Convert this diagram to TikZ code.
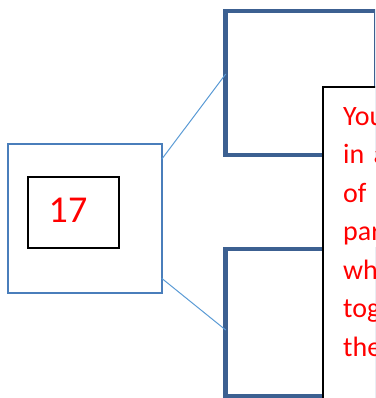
\documentclass[tikz,border=0pt]{standalone}
\usepackage{fontspec}
\setmainfont{Carlito}
\usetikzlibrary{positioning,calc}
\definecolor{frameblue}{RGB}{74,126,187}
\definecolor{linkblue}{RGB}{91,155,213}
\definecolor{deepblue}{RGB}{60,96,145}

\begin{document}
\begin{tikzpicture}[x=1pt,y=-1pt,
                sqframe/.style={rectangle,draw=frameblue,line width=2pt,
                                inner sep=0pt,outer sep=0pt},
                numbox/.style={rectangle,draw=black,line width=1.7pt,
                               inner sep=0pt,outer sep=0pt,
                               minimum width=91pt,minimum height=71.6pt},
                bigbox/.style={rectangle,draw=deepblue,line width=4.5pt,
                               inner sep=0pt,outer sep=0pt,minimum width=150.8pt},
                callout/.style={rectangle,draw=black,fill=white,line width=2pt,
                                inner sep=0pt,outer sep=0pt},
                linkline/.style={draw=linkblue,line width=1pt},
                redtext/.style={text=red,inner sep=0pt}]
                \useasboundingbox (0,0) rectangle (375,398);
                \clip (0,0) rectangle (375,398);
                % left square with the number
                \node[sqframe,minimum width=153.7pt,minimum height=148.4pt]
                           (square) at (84.85,218.5) {};
                \node[numbox] (num) at (73.5,212.5) {};
                \node[redtext,font=\fontsize{38}{40}\selectfont]
                           (numlabel) at ([xshift=-5.5pt,yshift=2pt]num.center) {17};
                % two large boxes on the right
                \node[bigbox,minimum height=144pt] (upper) at (301.1,83) {};
                \node[bigbox,minimum height=147pt] (lower) at (301.1,322.5) {};
                \draw[linkline] ($(square.north east)+(0,15)$) -- ($(upper.west)+(0,-9)$);
                \draw[linkline] ($(square.south east)+(0,-14.4)$) -- ($(lower.west)+(0,7.5)$);
                % text box on top
                \node[callout,minimum width=80pt,minimum height=340pt,anchor=north west]
                           (note) at (323,87) {};
                \node[redtext,anchor=north west,text width=60pt,align=left,
                      font=\fontsize{28}{38.5}\selectfont]
                           (notetext) at ($(note.north west)+(20,20)$)
                           {You\\in a\\of\\par\\wh\\tog\\the};
            \end{tikzpicture}
\end{document}
